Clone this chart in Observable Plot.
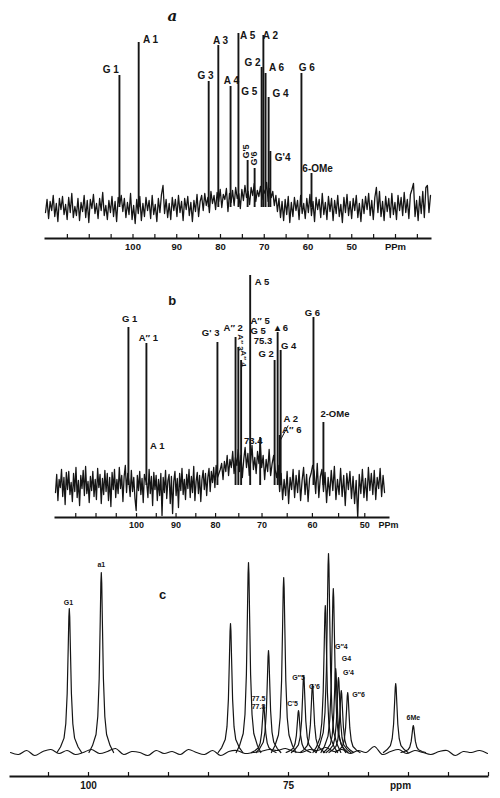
<!DOCTYPE html>
<html><head><meta charset="utf-8">
<script src="https://cdn.jsdelivr.net/npm/d3@7"></script>
<script src="https://cdn.jsdelivr.net/npm/@observablehq/plot@0.6"></script>
<style>
html,body{margin:0;padding:0;background:#fff;width:500px;height:798px;overflow:hidden;}
.panel{position:absolute;left:0;}
</style></head><body>
<div id="pa" class="panel" style="top:0px"></div>
<div id="pb" class="panel" style="top:258px"></div>
<div id="pc" class="panel" style="top:540px"></div>
<script>
// ---------- Panel a ----------
const aPeakPpm = [103.1, 98.7, 82.7, 80.5, 77.7, 75.9, 73.8, 72.2, 70.6, 70.2, 69.7, 69.0, 68.6, 61.5, 59.2];
const aPeakInt = [132, 165, 126, 162, 121, 174, 47, 39, 140, 172, 134, 110, 56, 134, 34];
const aLabelText = ["G 1", "A 1", "G 3", "A 3", "A 4", "A 5", "A 2", "G 2", "A 6", "G 5", "G 4", "G'4", "G 6", "6-OMe"];
const aLabelPpm = [105.1, 96.0, 83.4, 80.0, 77.5, 73.8, 68.6, 72.7, 67.2, 73.4, 66.3, 65.8, 60.3, 57.8];
const aLabelInt = [138, 168, 132, 167, 127, 172, 172, 145, 140, 116, 114, 50, 140, 39];
const aRotText = ["G'5", "G'6"];
const aRotPpm = [74.1, 72.3];
const aRotInt = [56, 49];
const aNoise = [
 -5, 8, -11, 6, -3, 12, -9, 4, -14, 9,
 -2, 11, -7, 3, -12, 10, -5, 14, -10, 1,
 -8, 9, -13, 5, -4, 12, -10, 7, -15, 8,
 -1, 13, -6, 4, -11, 9, -3, 15, -8, 2,
 -12, 7, -5, 11, -9, 6, -14, 10, 3, 12,
 -4, 9, -10, 5, -7, 14, -12, 2, -16, 8,
 -6, 11, -13, 4, -9, 10, -3, 7, -11, 12,
 -7, 3, -14, 9, -5, 13, 22, -6, 8, -10,
 4, -12, 10, -3, 8, -9, 12, -5, 6, -13,
 9, -2, 11, -8, 5, -14, 7, -4, 13, -9,
 6, 12, -3, 14, 2, 10, -5, 16, 4, 12,
 -2, 15, 6, 18, 0, 13, 8, 19, -4, 14,
 5, 17, 2, 20, 9, 14, -1, 18, 7, 22,
 10, 16, 3, 20, 12, 24, 6, 17, 11, 21,
 8, 18, 14, 25, 6, 19, 10, 16, 2, 12,
 -4, 9, -10, 6, -13, 8, -7, 11, -15, 5,
 -9, 10, -3, 7, -12, 12, -6, 4, -11, 9,
 -5, 13, -8, 6, -14, 10, -2, 8, -10, 14,
 -7, 5, -12, 11, -4, 9, -13, 7, -6, 12,
 -9, 3, -15, 10, -5, 13, -8, 6, -11, 9,
 -3, 12, -10, 4, -14, 8, -6, 11, -2, 14,
 -8, 7, -12, 10, 20, -5, 16, -9, 6, -13,
 11, -4, 9, -10, 14, -7, 5, -12, 12, -3,
 10, -8, 15, -5, 8, -11, 13, 18, 24, -9,
 7, -13, 11, -6, 16, -10, 20, 22, -5, 12];
const aNoiseSpan = [120, 32];
const aTicks = [115, 110, 105, 100, 95, 90, 85, 80, 75, 70, 65, 60, 55, 50, 45, 40, 35];
const aTickLabelPpm = [100, 90, 80, 70, 60, 50, 40];
const aTickLabelText = ["100", "90", "80", "70", "60", "50", "PPm"];

// ---------- Panel b ----------
const bPeakPpm = [102.0, 97.5, 79.6, 75.7, 75.1, 74.5, 72.55, 70.4, 67.5, 66.9, 66.5, 66.3, 59.8, 57.9];
const bPeakInt = [158, 142, 143, 148, 138, 125, 210, 48, 125, 153, 50, 135, 168, 63];
const bLabelText = ["G 1", "A\u2033 1", "A 1", "G' 3", "A\u2033 2", "A 5", "A\u2033 5", "G 5", "75.3", "G 2", "\u25B4 6", "G 4", "A 2", "A\u2033 6", "73.4", "G 6", "2-OMe"];
const bLabelPpm = [101.7, 97.0, 94.75, 81.25, 76.2, 70.0, 70.4, 70.85, 69.8, 69.2, 66.1, 64.7, 64.3, 64.1, 71.9, 60.0, 55.7];
const bLabelInt = [167, 148, 40, 153, 158, 204, 165, 155, 145, 132, 158, 140, 67, 56, 45, 173, 72];
const bRotText = ["A\u2033 3", "A\u2033 4"];
const bRotPpm = [74.7, 74.0];
const bRotInt = [143, 127];
const bLeaderPpm = [66.5, 64.8];
const bLeaderInt = [44, 60];
const bNoise = [
 -7, 11, -15, 6, -2, 16, -11, 8, -19, 13,
 -4, 14, -9, 3, -16, 12, -6, 18, -12, 5,
 -20, 10, -3, 15, -10, 19, -8, 4, -17, 9,
 -5, 14, -11, 6, -14, 17, -2, 11, -18, 7,
 -9, 15, -6, 12, -15, 8, -21, 13, -4, 16,
 -12, 6, -8, 18, -3, 10, -16, 9, 20, -7,
 12, 4, -11, 15, -6, 8, -13, -25, 10, -5,
 14, -9, 7, -17, 11, 6, 2, -12, 16, -8,
 9, -20, 13, -4, 10, -15, 6, -10, 12, -30,
 8, -7, 15, -13, 5, 11, -18, 9, -28, 4,
 14, -10, 7, -22, 12, -5, 17, -9, 6, -14,
 11, -3, 16, -12, 9, -7, 19, -15, 4, 13,
 -8, 10, -16, 6, 15, -4, 12, -10, 8, 17,
 -6, 14, 3, 18, -2, 20, 8, 12, 16, 22,
 6, 24, 14, 30, 10, 26, 18, 34, 12, 28,
 20, 36, 14, 30, 8, 26, 38, 18, 32, 10,
 24, 40, 16, 28, 12, 34, 22, 42, 18, 30,
 6, 26, 14, 36, 10, 22, 30, 16, 8, 20,
 -6, 12, -14, 6, -10, 14, -18, 8, -4, 16,
 -12, 10, -7, 15, -15, 5, 18, -9, 11, -16,
 7, 12, 20, 14, -8, 22, -12, 9, 16, -6,
 13, -17, 8, -10, 15, -5, 19, -14, 6, -9,
 17, -11, 10, -20, 12, -4, 14, -13, 9, -18,
 5, -32, 11, -8, 16, -12, 7, -15, 18, -5,
 12, -9, 15, -14, 8, -3, 17, -11, 10, -7];
const bNoiseSpan = [120, 46];
// the printed ppm axis of spectrum b is unevenly spaced: ppm stops and where they fall along the axis
const bAxisPpm = [120, 100, 90, 80, 70, 60, 50, 46];
const bAxisStop = [0, 82, 122, 162, 209, 260, 313, 333];
const bTicks = [115, 110, 105, 100, 95, 90, 85, 80, 75, 70, 65, 60, 55, 50];
const bTickLabelPpm = [100, 90, 80, 70, 60, 50, 45.2];
const bTickLabelText = ["100", "90", "80", "70", "60", "50", "PPm"];

// ---------- Panel c ----------
const cPeakPpm = [102.4, 98.4, 82.25, 80.0, 78.1, 77.5, 75.6, 73.75, 73.1, 72.0, 70.4, 70.0, 69.4, 69.1, 68.75, 68.4, 67.6, 61.6, 59.4];
const cPeakInt = [144, 180, 129, 190, 47, 102, 175, 42, 77, 68, 147, 199, 164, 84, 75, 62, 60, 69, 27];
const cLabelText = ["G1", "a1", "77.5", "77.8", "C'5", "G\u20335", "G'6", "G\u20334", "G4", "G'4", "G\u20336", "6Me"];
const cLabelPpm = [102.5, 98.4, 78.75, 78.75, 74.5, 73.75, 71.75, 68.4, 67.75, 67.5, 66.25, 59.4];
const cLabelInt = [150, 188, 54, 46, 49, 75, 66, 106, 94, 80, 58, 35];
const cBase = [0, -2, 2, -3, 1, 3, -1, 2, -2, 0, 3, -1, 1, 4, -2, 1, 0, -3, 2, -1,
 1, -2, 3, 0, -2, 2, -3, 1, 2, -1, 0, 1, 3, 2, 4, 1, 0, 3, 2, 5,
 1, 3, -1, 2, 0, 6, -2, 1, 3, -1, 2, 0, -2, 1, 2, -3, 1, 0, 2, -1];
const cBaseSpan = [109.75, 50.125];
const cTicks = [105, 100, 95, 90, 85, 80, 75, 70, 65, 60, 55, 50];
const cTickLabelPpm = [100, 75, 61.0];
const cTickLabelText = ["100", "75", "ppm"];

// ---------- helpers ----------
const ink = "#151515";
const FONT = "'Liberation Sans', Arial, sans-serif";
const series = (vals, span) => vals.map((v, i) => ({ppm: span[0] + (span[1] - span[0]) * i / (vals.length - 1), v}));
const zip = (ppm, h) => ppm.map((p, i) => ({ppm: p, h: h[i]}));
const lab = (t, ppm, h) => t.map((s, i) => ({t: s, ppm: ppm[i], h: h[i]}));
const style = {fontFamily: FONT, background: "transparent", overflow: "visible", color: ink};

function axisMarks(ticks, lp, lt, frameH, dy, fs) {
  return [
    Plot.frame({anchor: "bottom", stroke: ink, strokeWidth: 2}),
    Plot.ruleX(ticks, {x: d => d, insetTop: frameH - 4, stroke: ink, strokeWidth: 1.2}),
    Plot.text(lp, {x: d => d, text: (d, i) => lt[i], frameAnchor: "bottom", dy, fontSize: fs, fontWeight: "bold", fill: ink})
  ];
}

// ---------- Panel a ----------
{
  const H = 258, MB = 20;
  const p = Plot.plot({
    width: 500, height: H, marginTop: 0, marginLeft: 45, marginRight: 70, marginBottom: MB,
    x: {domain: [120, 32], axis: null},
    y: {domain: [0, 200], range: [207, 7], axis: null},
    style,
    marks: [
      Plot.line(series(aNoise, aNoiseSpan), {x: "ppm", y: "v", stroke: ink, strokeWidth: 1.3}),
      Plot.ruleX(zip(aPeakPpm, aPeakInt), {x: "ppm", y1: 0, y2: "h", stroke: ink, strokeWidth: 1.9}),
      Plot.text(lab(aLabelText, aLabelPpm, aLabelInt), {x: "ppm", y: "h", text: "t", fontSize: 10, fontWeight: "bold", fill: ink}),
      Plot.text(lab(aRotText, aRotPpm, aRotInt), {x: "ppm", y: "h", text: "t", rotate: -90, fontSize: 9, fontWeight: "bold", fill: ink}),
      Plot.text(["a"], {x: 91.0, y: 191, text: d => d, fontSize: 15, fontWeight: "bold", fontStyle: "italic", fontFamily: "'DejaVu Serif', serif", fill: ink}),
      ...axisMarks(aTicks, aTickLabelPpm, aTickLabelText, H - MB, 11, 9.5)
    ]
  });
  document.getElementById("pa").append(p);
}

// ---------- Panel b ----------
{
  const H = 282, MB = 23;
  const warp = d3.scaleLinear().domain(bAxisPpm).range(bAxisStop);
  const p = Plot.plot({
    width: 500, height: H, marginTop: 0, marginLeft: 55, marginRight: 112, marginBottom: MB,
    x: {transform: warp, axis: null},
    y: {domain: [0, 220], range: [227, 7], axis: null},
    style,
    marks: [
      Plot.line(series(bNoise, bNoiseSpan), {x: "ppm", y: "v", stroke: ink, strokeWidth: 1.3}),
      Plot.ruleX(zip(bPeakPpm, bPeakInt), {x: "ppm", y1: 0, y2: "h", stroke: ink, strokeWidth: 1.9}),
      Plot.link([0], {x1: () => bLeaderPpm[0], y1: () => bLeaderInt[0], x2: () => bLeaderPpm[1], y2: () => bLeaderInt[1], stroke: ink, strokeWidth: 1}),
      Plot.text(lab(bLabelText, bLabelPpm, bLabelInt), {x: "ppm", y: "h", text: "t", fontSize: 9.5, fontWeight: "bold", fill: ink}),
      Plot.text(lab(bRotText, bRotPpm, bRotInt), {x: "ppm", y: "h", text: "t", rotate: 90, fontSize: 8, fontWeight: "bold", fill: ink}),
      Plot.text(["b"], {x: 91.0, y: 185, text: d => d, fontSize: 13, fontWeight: "bold", fill: ink}),
      ...axisMarks(bTicks, bTickLabelPpm, bTickLabelText, H - MB, 10, 9)
    ]
  });
  document.getElementById("pb").append(p);
}

// ---------- Panel c ----------
{
  const H = 258, MB = 22, hw = 0.22;
  const shape = [-7, -5, -3, -2, -1.2, -0.6, -0.25, 0, 0.25, 0.6, 1.2, 2, 3, 5, 7];
  const peaks = zip(cPeakPpm, cPeakInt);
  const profiles = peaks.flatMap((pk, j) => shape.map(k => ({id: j, ppm: pk.ppm + k * hw, v: Math.abs(k) > 6 ? 0 : pk.h / (1 + k * k)})));
  const p = Plot.plot({
    width: 500, height: H, marginTop: 0, marginLeft: 10, marginRight: 13, marginBottom: MB,
    x: {domain: [109.75, 50.125], axis: null},
    y: {domain: [0, 210], range: [212, 2], axis: null},
    style,
    marks: [
      Plot.line(series(cBase, cBaseSpan), {x: "ppm", y: "v", stroke: ink, strokeWidth: 1.1, curve: "catmull-rom"}),
      Plot.line(profiles, {x: "ppm", y: "v", z: "id", stroke: ink, strokeWidth: 1.2}),
      Plot.text(lab(cLabelText, cLabelPpm, cLabelInt), {x: "ppm", y: "h", text: "t", fontSize: 7, fontWeight: "bold", fill: ink}),
      Plot.text(["c"], {x: 90.75, y: 158, text: d => d, fontSize: 13, fontWeight: "bold", fill: ink}),
      ...axisMarks(cTicks, cTickLabelPpm, cTickLabelText, H - MB, 12, 10)
    ]
  });
  document.getElementById("pc").append(p);
}
</script>
</body></html>
